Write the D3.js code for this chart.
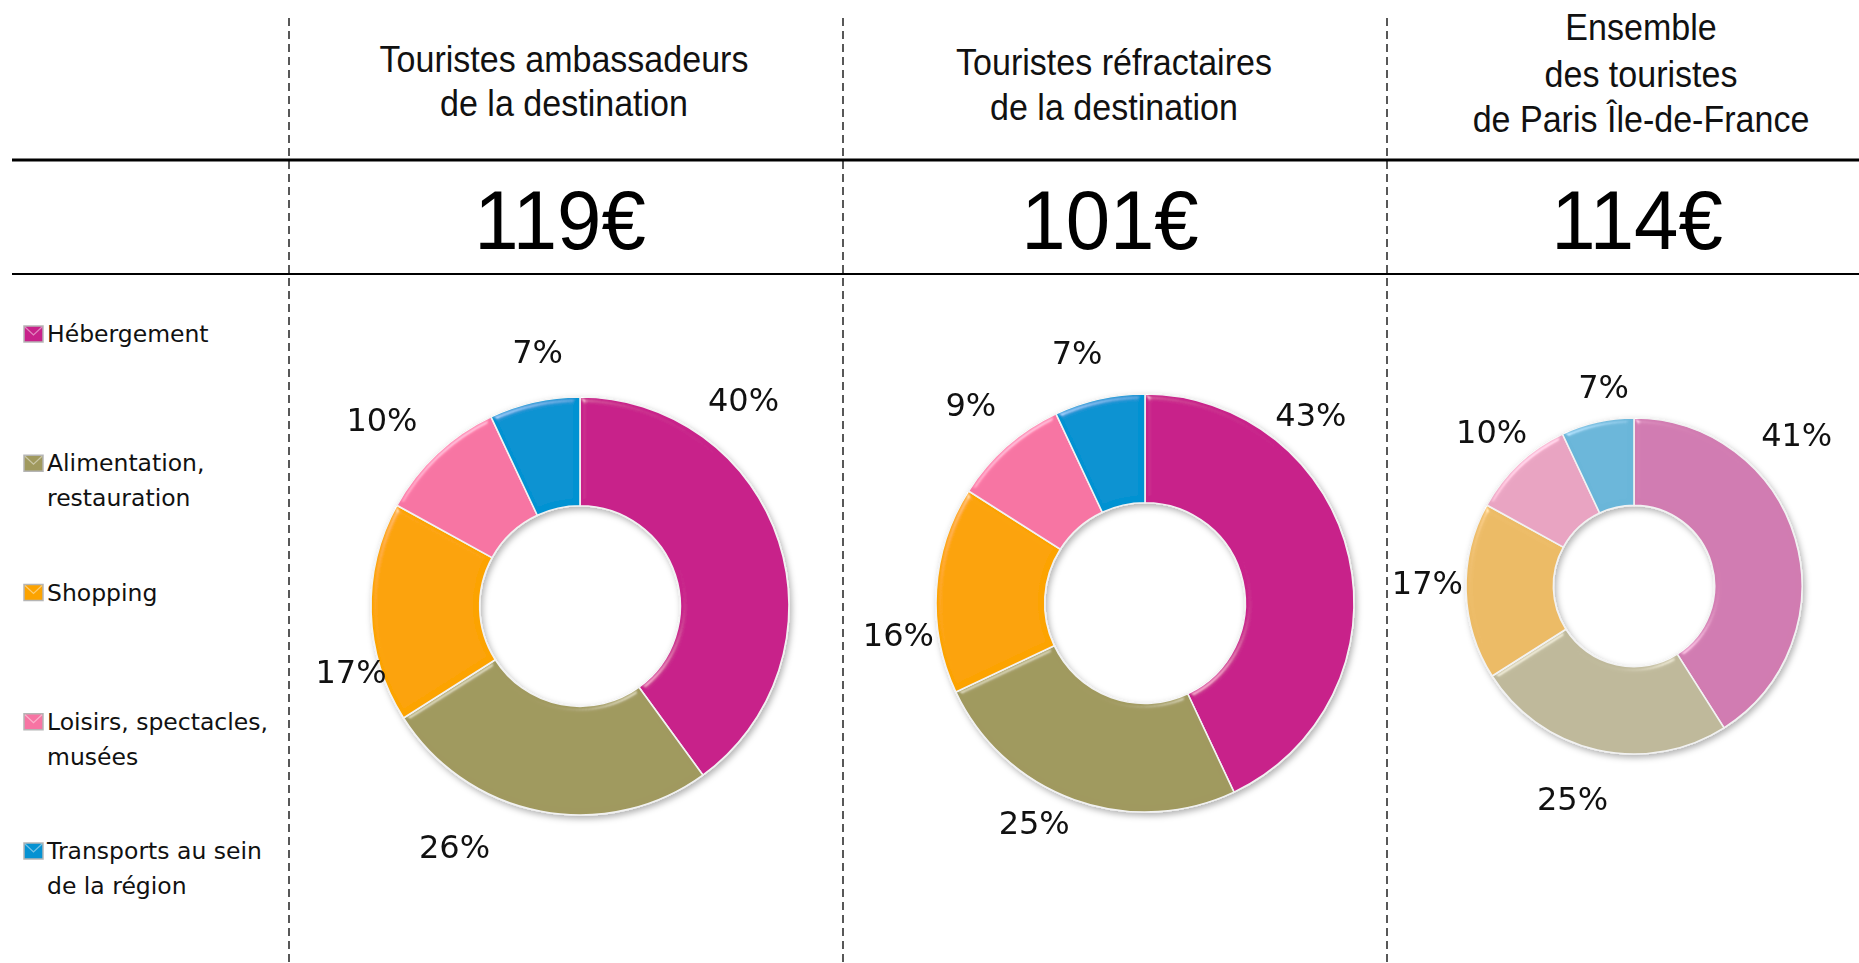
<!DOCTYPE html>
<html>
<head>
<meta charset="utf-8">
<script src="https://cdn.jsdelivr.net/npm/d3@7"></script>
<style>
  body { margin: 0; background: #fff; }
  svg { display: block; }
</style>
</head>
<body>
<div id="chart"></div>
<script>
// data
const categories = ["Hébergement", "Alimentation, restauration", "Shopping", "Loisirs, spectacles, musées", "Transports au sein de la région"];
const legendLines = [["Hébergement"], ["Alimentation,", "restauration"], ["Shopping"], ["Loisirs, spectacles,", "musées"], ["Transports au sein", "de la région"]];
const ambassadeurs = [40, 26, 17, 10, 7];
const refractaires = [43, 25, 16, 9, 7];
const ensemble = [41, 25, 17, 10, 7];
const totals = [119, 101, 114];
const headers = [
  ["Touristes ambassadeurs", "de la destination"],
  ["Touristes réfractaires", "de la destination"],
  ["Ensemble", "des touristes", "de Paris Île-de-France"]
];

const colorsBright = ["#c8218a", "#a0995e", "#fca300", "#f774a3", "#0592d2"];
const colorsPale = ["#d17bb1", "#bfb99b", "#ecbb66", "#e9a4c2", "#6bb6d9"];

// page size
const width = 1859,
      height = 963;

const svg = d3.select("#chart")
  .append("svg")
    .attr("width", width)
    .attr("height", height);

// filters: bevel + drop shadow
const defs = svg.append("defs");
const shadow = defs.append("filter").attr("id", "shadow")
  .attr("x", "-20%").attr("y", "-20%").attr("width", "140%").attr("height", "140%");
shadow.append("feDropShadow")
  .attr("dx", 2).attr("dy", 3).attr("stdDeviation", 3)
  .attr("flood-color", "#000").attr("flood-opacity", 0.3);

const bevel = defs.append("filter").attr("id", "bevel")
  .attr("x", "-5%").attr("y", "-5%").attr("width", "110%").attr("height", "110%");
bevel.append("feGaussianBlur").attr("in", "SourceAlpha").attr("stdDeviation", 3).attr("result", "blur");
const spec = bevel.append("feSpecularLighting")
  .attr("in", "blur").attr("surfaceScale", 4).attr("specularConstant", 0.5)
  .attr("specularExponent", 40).attr("lighting-color", "#ffffff").attr("result", "spec");
spec.append("feDistantLight").attr("azimuth", 235).attr("elevation", 35);
bevel.append("feComposite").attr("in", "spec").attr("in2", "SourceAlpha").attr("operator", "in").attr("result", "specIn");
bevel.append("feComposite").attr("in", "SourceGraphic").attr("in2", "specIn")
  .attr("operator", "arithmetic").attr("k1", 0).attr("k2", 1).attr("k3", 0.6).attr("k4", 0);

// table grid
const dividers = [289, 843, 1387];
svg.selectAll("line.divider")
  .data(dividers)
  .join("line")
    .attr("class", "divider")
    .attr("x1", d => d).attr("x2", d => d)
    .attr("y1", 18).attr("y2", height)
    .attr("stroke", "#222")
    .attr("stroke-width", 1.5)
    .attr("stroke-dasharray", "8,5");

svg.append("line")
  .attr("x1", 12).attr("x2", width)
  .attr("y1", 160).attr("y2", 160)
  .attr("stroke", "#000").attr("stroke-width", 3);
svg.append("line")
  .attr("x1", 12).attr("x2", width)
  .attr("y1", 274).attr("y2", 274)
  .attr("stroke", "#000").attr("stroke-width", 2.2);

// panels layout
const panels = [
  { values: ambassadeurs, colors: colorsBright, cx: 580, cy: 606, r: 209, textX: 564, headY: [72, 116],
    labels: [[38.4, 1.26], [207.5, 1.30], [254, 1.14], [313.2, 1.30], [350.5, 1.23]] },
  { values: refractaires, colors: colorsBright, cx: 1145, cy: 603, r: 209, textX: 1114, headY: [75, 120],
    labels: [[41.4, 1.20], [206.7, 1.18], [262.6, 1.19], [318.6, 1.26], [344.8, 1.24]] },
  { values: ensemble, colors: colorsPale, cx: 1634, cy: 586, r: 168, textX: 1641, headY: [40, 87, 132],
    labels: [[47.2, 1.32], [196.1, 1.32], [270.7, 1.23], [317.3, 1.25], [351.3, 1.20]] }
];

const headFont = "'Liberation Sans', Arial, sans-serif";
const bodyFont = "'DejaVu Sans', sans-serif";

const pie = d3.pie().sort(null).value(d => d);

panels.forEach(function(p, i) {
  // header (condensed look)
  svg.append("g")
    .selectAll("text")
    .data(headers[i])
    .join("text")
      .attr("transform", (d, j) => `translate(${p.textX},${p.headY[j]}) scale(0.92,1)`)
      .attr("text-anchor", "middle")
      .style("font-family", headFont)
      .style("font-size", "37px")
      .style("fill", "#111")
      .text(d => d);

  // total
  svg.append("text")
    .attr("transform", `translate(${p.textX - 4},249) scale(0.95,1)`)
    .attr("text-anchor", "middle")
    .style("font-family", headFont)
    .style("font-size", "84px")
    .style("fill", "#000")
    .text(totals[i] + "€");

  // donut
  const arc = d3.arc().innerRadius(p.r * 0.48).outerRadius(p.r);
  const g = svg.append("g")
    .attr("transform", `translate(${p.cx},${p.cy})`);
  const slices = g.append("g").attr("filter", "url(#shadow)");
  slices.selectAll("path")
    .data(pie(p.values))
    .join("path")
      .attr("d", arc)
      .attr("fill", (d, j) => p.colors[j])
      .attr("stroke", "#f2f2f2")
      .attr("stroke-width", 1.6)
      .attr("filter", "url(#bevel)")
    .append("title")
      .text((d, j) => `${categories[j]} : ${d.data}%`);

  // percentage labels
  g.selectAll("text.pct")
    .data(p.values)
    .join("text")
      .attr("class", "pct")
      .attr("x", (d, j) => Math.sin(p.labels[j][0] * Math.PI / 180) * p.r * p.labels[j][1])
      .attr("y", (d, j) => -Math.cos(p.labels[j][0] * Math.PI / 180) * p.r * p.labels[j][1])
      .attr("text-anchor", "middle")
      .attr("dominant-baseline", "central")
      .style("font-family", bodyFont)
      .style("font-size", "32px")
      .style("fill", "#111")
      .text(d => d + "%");
});

// legend
const legendY = d3.scalePoint()
  .domain(categories)
  .range([334, 851]);

const legend = svg.append("g");
const item = legend.selectAll("g")
  .data(categories)
  .join("g")
    .attr("transform", d => `translate(0,${legendY(d)})`);
item.append("rect")
  .attr("x", 24).attr("y", -8)
  .attr("width", 19).attr("height", 16)
  .attr("fill", (d, i) => colorsBright[i])
  .attr("stroke", "#b5b5b5")
  .attr("stroke-width", 1.5);
item.append("path")
  .attr("d", "M25,-7 L33.5,1 L42,-7")
  .attr("fill", "none")
  .attr("stroke", "rgba(255,255,255,0.45)")
  .attr("stroke-width", 1.2);
item.selectAll("text")
  .data((d, i) => legendLines[i])
  .join("text")
    .attr("x", 47)
    .attr("y", (d, j) => j * 35)
    .attr("dominant-baseline", "central")
    .style("font-family", bodyFont)
    .style("font-size", "23.5px")
    .style("fill", "#111")
    .text(d => d);
</script>
</body>
</html>
